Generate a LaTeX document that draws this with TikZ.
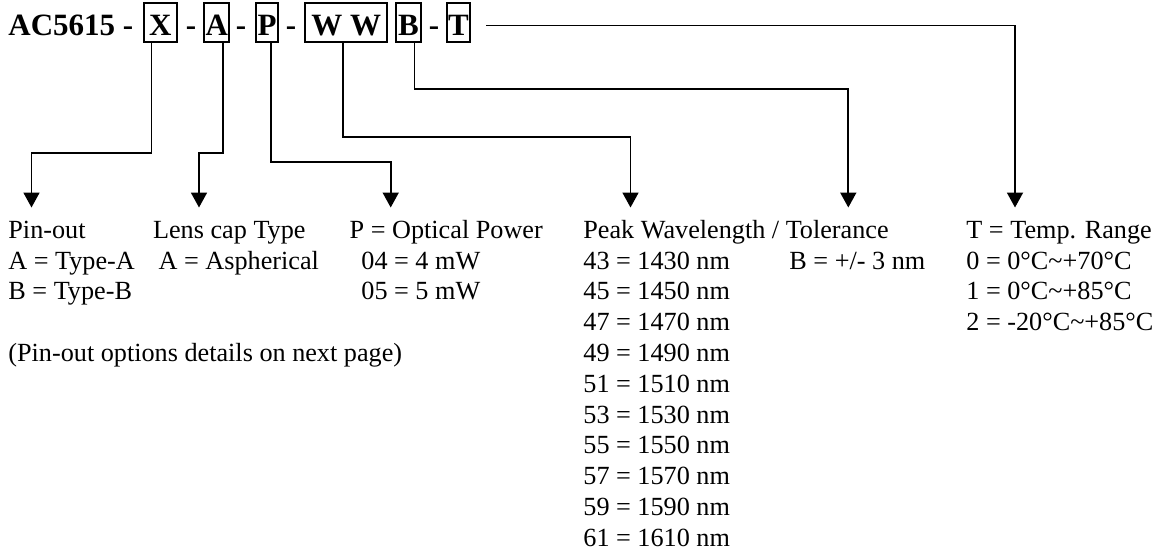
\documentclass[tikz,border=0pt]{standalone}
\usepackage{fontspec}
\setmainfont{Liberation Serif}
\usetikzlibrary{arrows.meta}

\newcommand{\bodysize}{\fontsize{13.1pt}{15.4pt}\selectfont}
\newcommand{\headsize}{\fontsize{15.5pt}{18pt}\selectfont\bfseries}

\tikzset{
  codebox/.style={draw, line width=0.9pt, inner sep=0pt, outer sep=0pt,
    text height=16.15pt, text depth=3.35pt, anchor=base, font=\headsize},
  headtxt/.style={inner sep=0pt, anchor=base, font=\headsize},
  txt/.style={inner sep=0pt, anchor=base west, font=\bodysize},
  conn/.style={line width=0.9pt, -{Triangle[width=8pt,length=7.5pt]}},
}

\begin{document}
\begin{tikzpicture}[x=0.5pt,y=-0.5pt]
  \useasboundingbox (0,0) rectangle (1165,554);
  % Part number with boxed fields
  \node[headtxt, anchor=base west] (title) at (8,35) {AC5615 -};
  \node[codebox, minimum width=16.35pt] (bX) at (160.3,35) {X};
  \node[headtxt] (d1) at (191,35) {-};
  \node[codebox, minimum width=12.5pt] (bA) at (216.8,35) {A};
  \node[headtxt] (d2) at (241,35) {-};
  \node[codebox, minimum width=11.15pt] (bP) at (267.2,35) {P};
  \node[headtxt] (d3) at (291,35) {-};
  \node[codebox, minimum width=41.15pt] (bW) at (346.2,35) {W W};
  \node[codebox, minimum width=12.65pt] (bB) at (408.4,35) {B};
  \node[headtxt] (d4) at (434,35) {-};
  \node[codebox, minimum width=11.65pt] (bT) at (458.4,35) {T};

  % Arrow ends above each column
  \coordinate (pinTip) at (31.5,207.5);
  \coordinate (lensTip) at (199,207.5);
  \coordinate (powTip) at (390.7,207.5);
  \coordinate (wlTip) at (630.5,207.5);
  \coordinate (tolTip) at (848.3,207.5);
  \coordinate (tempTip) at (1015,207.5);
  \coordinate (tStart) at ([shift={(16,3.3)}]bT.east);

  % Connectors
  \draw[conn] ([shift={(-8.8,0)}]bX.south) -- ++(0,111) -| (pinTip);
  \draw[conn] ([shift={(5.9,0)}]bA.south) -- ++(0,111) -| (lensTip);
  \draw[conn] ([shift={(3.8,0)}]bP.south) -- ++(0,120) -| (powTip);
  \draw[conn] ([shift={(-3.5,0)}]bW.south) -- ++(0,95) -| (wlTip);
  \draw[conn] ([shift={(6.1,0)}]bB.south) -- ++(0,47.3) -| (tolTip);
  \draw[conn] (tStart) -| (tempTip);

  % Pin-out
  \node[txt] (pin0) at (8,238.3) {Pin-out};
  \node[txt] (pin1) at (8,269.1) {A = Type-A};
  \node[txt] (pin2) at (8,299.9) {B = Type-B};
  \node[txt] (pinNote) at (8,361.5) {(Pin-out options details on next page)};
  % Lens cap
  \node[txt] (lens0) at (152.7,238.3) {Lens cap Type};
  \node[txt] (lens1) at (158.3,269.1) {A = Aspherical};
  % Optical power
  \node[txt] (pow0) at (349.3,238.3) {P = Optical Power};
  \node[txt] (pow1) at (361,269.1) {04 = 4 mW};
  \node[txt] (pow2) at (361,299.9) {05 = 5 mW};
  % Wavelength and tolerance
  \node[txt] (wl0) at (583,238.3) {Peak Wavelength / Tolerance};
  \foreach \n [count=\i] in {43,45,...,61} {
    \pgfmathtruncatemacro{\wl}{1000+10*\n}
    \node[txt] (wl\n) at ({583},{238.3+\i*30.8}) {\n\ = \wl\ nm};
  }
  \node[txt] (tol1) at (789,269.1) {B = +/- 3 nm};
  % Temperature range
  \node[txt] (temp0) at (966,238.3) {T = Temp. Range};
  \node[txt] (temp1) at (966,269.1) {0 = 0°C\textasciitilde+70°C};
  \node[txt] (temp2) at (966,299.9) {1 = 0°C\textasciitilde+85°C};
  \node[txt] (temp3) at (966,330.7) {2 = -20°C\textasciitilde+85°C};
\end{tikzpicture}
\end{document}
